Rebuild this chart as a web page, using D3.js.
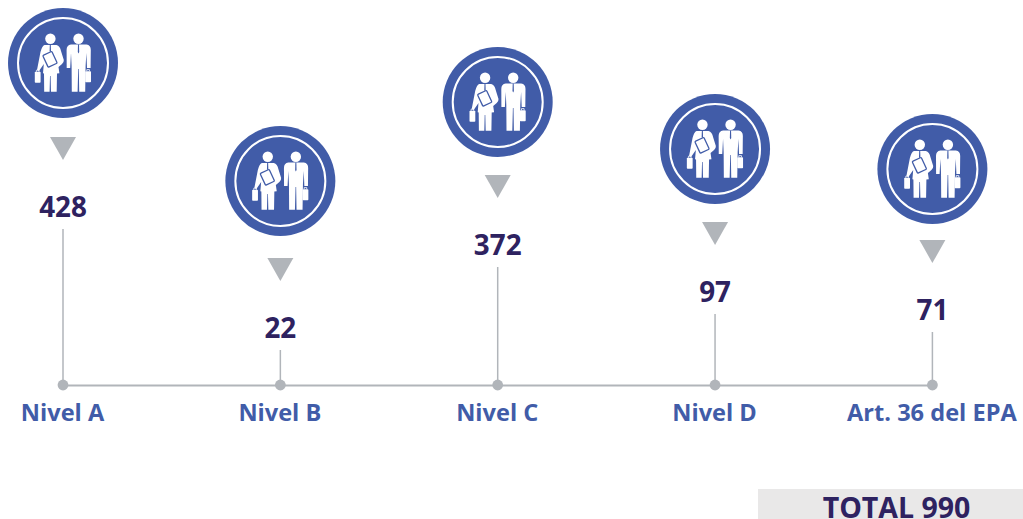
<!DOCTYPE html>
<html>
<head>
<meta charset="utf-8">
<style>
  html, body { margin: 0; padding: 0; background: #fff; overflow: hidden; }
  text { font-family: "Open Sans", sans-serif; font-weight: 700; }
</style>
<script src="https://cdn.jsdelivr.net/npm/d3@7"></script>
</head>
<body>
<div id="chart"></div>
<script>
var categories = ["Nivel A", "Nivel B", "Nivel C", "Nivel D", "Art. 36 del EPA"];
var values = [428, 22, 372, 97, 71];
var totalLabel = "TOTAL 990";

var width = 1023;
var height = 519;
var baseY = 385;

var blue = "#415ca8";
var grey = "#b1b5ba";
var dark = "#2e2260";

var svg = d3.select("#chart").append("svg")
  .attr("width", width)
  .attr("height", height)
  .style("display", "block");

// icon drawn once, centred on 0,0
var defs = svg.append("defs");
var icon = defs.append("g").attr("id", "people");
icon.append("circle").attr("r", 55).attr("fill", blue);
icon.append("circle").attr("r", 45).attr("fill", "none").attr("stroke", "#fff").attr("stroke-width", 2);

// man on the right
icon.append("circle").attr("cx", 15.5).attr("cy", -24.2).attr("r", 5.2).attr("fill", "#fff");
icon.append("path").attr("fill", "#fff")
  .attr("d", "M8,-18.5 L23.5,-18.5 Q27.8,-18 27.8,-13 L27.6,5 L24,5 L23.4,-10 L22.6,3 L22.2,28.7 L16.2,28.7 L15.8,6 L15.2,6 L14.6,28.7 L8.8,28.7 L8.6,3 L8,-10 L7.2,5 L3.7,5 L3.6,-13 Q3.6,-18 8,-18.5Z");
icon.append("path").attr("fill", blue).attr("d", "M15,-18.5 L16,-18.5 L16.2,-11 L15.5,-9.5 L14.8,-11Z");
// his briefcase
icon.append("rect").attr("x", 22.2).attr("y", 8.2).attr("width", 5.8).attr("height", 11).attr("rx", 0.8).attr("fill", "#fff");
icon.append("path").attr("d", "M23.8,8.2 V6.6 H26.4 V8.2").attr("fill", "none").attr("stroke", "#fff").attr("stroke-width", 0.8);

// woman on the left
icon.append("circle").attr("cx", -12.6).attr("cy", -24.2).attr("r", 5.2).attr("fill", "#fff");
icon.append("path").attr("fill", "#fff")
  .attr("d", "M-18.5,-18 L-6.5,-18 Q-3,-17 -2,-12 L0.8,-3 Q1,-0.5 -1,1 L-4.5,4 L-3.6,10.2 L-6,10.4 L-6.3,28.7 L-12,28.7 L-12.4,13 L-13,13 L-13.4,28.7 L-18.8,28.7 L-19,10.4 L-20,10.2 L-19.2,1 L-24,8 L-26,7 L-22.5,-11 Q-21,-17 -18.5,-18Z");
icon.append("path").attr("fill", blue).attr("d", "M-13.2,-18 L-12.2,-18 L-12,-12 L-12.7,-10.5 L-13.4,-12Z");
// clipboard
icon.append("rect").attr("x", -18).attr("y", -10.2).attr("width", 10).attr("height", 13).attr("rx", 1)
  .attr("transform", "rotate(-25 -13 -3.7)")
  .attr("fill", "#fff").attr("stroke", blue).attr("stroke-width", 1.3);
// her briefcase
icon.append("rect").attr("x", -28.2).attr("y", 8.8).attr("width", 5.8).attr("height", 11).attr("rx", 0.8).attr("fill", "#fff");
icon.append("path").attr("d", "M-26.6,8.8 V7.2 H-24 V8.8").attr("fill", "none").attr("stroke", "#fff").attr("stroke-width", 0.8);

var x = d3.scalePoint().domain(categories).range([63, 932.4]);

// stems are not proportional in the original, so the scale has one knot per value
var y = d3.scaleLinear()
  .domain([22, 71, 97, 372, 428])
  .range([350, 332, 314, 267, 229]);

// the icons sit a few px off the stem rhythm
var iconY = d3.scaleLinear()
  .domain([22, 71, 97, 372, 428])
  .range([181, 169, 149, 102, 63]);

var data = categories.map(function (c, i) {
  return { category: c, value: values[i] };
});

// axis line and category names
var axis = d3.axisBottom(x).tickSize(0).tickPadding(19);
var axisG = svg.append("g")
  .attr("transform", "translate(0," + baseY + ")")
  .call(axis);
axisG.select(".domain").attr("stroke", grey).attr("stroke-width", 2);
axisG.selectAll(".tick line").remove();
axisG.selectAll(".tick text")
  .attr("dx", -1)
  .attr("fill", blue)
  .style("font-family", '"Open Sans", sans-serif')
  .style("font-weight", 700)
  .style("font-size", "23.6px");

var item = svg.selectAll(".item").data(data).enter().append("g").attr("class", "item");

item.append("line")
  .attr("x1", function (d) { return x(d.category); })
  .attr("x2", function (d) { return x(d.category); })
  .attr("y1", function (d) { return y(d.value); })
  .attr("y2", baseY)
  .attr("stroke", grey)
  .attr("stroke-width", 1.5);

item.append("circle")
  .attr("cx", function (d) { return x(d.category); })
  .attr("cy", baseY)
  .attr("r", 5.4)
  .attr("fill", grey);

item.append("text")
  .attr("x", function (d) { return x(d.category); })
  .attr("y", function (d) { return y(d.value) - 12.4; })
  .attr("text-anchor", "middle")
  .attr("fill", dark)
  .style("font-size", "27.8px")
  .text(function (d) { return d.value; });

item.append("path")
  .attr("d", "M-13,0 L13,0 L0,23Z")
  .attr("fill", grey)
  .attr("transform", function (d) {
    return "translate(" + x(d.category) + "," + (y(d.value) - 92) + ")";
  });

item.append("use")
  .attr("href", "#people")
  .attr("transform", function (d) {
    return "translate(" + x(d.category) + "," + iconY(d.value) + ")";
  });

// total box, cut off by the bottom of the picture
svg.append("rect")
  .attr("x", 758).attr("y", 489)
  .attr("width", 265).attr("height", 30)
  .attr("fill", "#e9e8e8");

svg.append("text")
  .attr("x", 896.5).attr("y", 518)
  .attr("text-anchor", "middle")
  .attr("fill", dark)
  .style("font-size", "28.5px")
  .text(totalLabel);
</script>
</body>
</html>
